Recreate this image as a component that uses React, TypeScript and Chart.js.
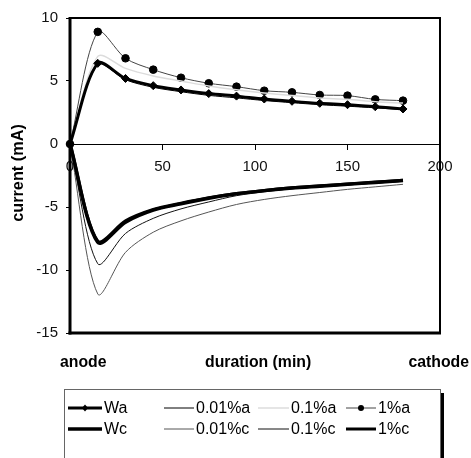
import React, { useEffect, useRef } from "react";
import { Chart, registerables } from "chart.js";

Chart.register(...registerables);

const durations = [0, 15, 30, 45, 60, 75, 90, 105, 120, 135, 150, 165, 180];
const Wa = [0, 6.4, 5.2, 4.63, 4.29, 4.0, 3.8, 3.57, 3.39, 3.23, 3.12, 2.96, 2.78];
const a001 = [0, 6.3, 5.1, 4.5, 4.15, 3.86, 3.66, 3.45, 3.28, 3.12, 3.0, 2.87, 2.72];
const a01 = [0, 6.95, 6.0, 5.4, 5.0, 4.6, 4.3, 4.05, 3.85, 3.65, 3.55, 3.35, 3.25];
const a1 = [0, 8.9, 6.8, 5.9, 5.26, 4.82, 4.55, 4.23, 4.1, 3.89, 3.84, 3.54, 3.44];
const Wc = [0, -7.8, -6.2, -5.25, -4.75, -4.3, -3.95, -3.7, -3.5, -3.35, -3.2, -3.05, -2.9];
const c001 = [0, -11.9, -8.6, -7.0, -6.1, -5.4, -4.8, -4.4, -4.1, -3.85, -3.6, -3.4, -3.2];
const c01 = [0, -9.5, -7.1, -5.9, -5.15, -4.6, -4.1, -3.8, -3.55, -3.4, -3.25, -3.1, -2.97];
const c1 = [0, -7.7, -6.1, -5.2, -4.7, -4.27, -3.93, -3.68, -3.48, -3.32, -3.17, -3.02, -2.88];

const xTicks = [0, 50, 100, 150, 200];
const yTicks = [-15, -10, -5, 0, 5, 10];

const FONT = "Liberation Sans, Arial, sans-serif";

const toXY = (vals: number[]) => vals.map((v, i) => ({ x: durations[i], y: v }));

export default function App() {
  const ref = useRef<HTMLCanvasElement | null>(null);

  useEffect(() => {
    if (!ref.current) return;
    const base = { tension: 0.3, clip: false as any };
    const datasets: any[] = [
      { label: "Wa", data: toXY(Wa), borderColor: "#000", backgroundColor: "#000", borderWidth: 3, pointStyle: "rectRot", pointRadius: 4, pointBorderWidth: 1, ...base },
      { label: "0.01%a", data: toXY(a001), borderColor: "#000", borderWidth: 1, pointRadius: 0, ...base },
      { label: "0.1%a", data: toXY(a01), borderColor: "#dcdcdc", borderWidth: 1.5, pointRadius: 0, ...base },
      { label: "1%a", data: toXY(a1), borderColor: "#444", backgroundColor: "#000", borderWidth: 1, pointStyle: "circle", pointRadius: 3.8, pointBorderColor: "#000", ...base },
      { label: "Wc", data: toXY(Wc), borderColor: "#000", borderWidth: 3.5, pointRadius: 0, ...base },
      { label: "0.01%c", data: toXY(c001), borderColor: "#555", borderWidth: 1, pointRadius: 0, ...base },
      { label: "0.1%c", data: toXY(c01), borderColor: "#111", borderWidth: 1, pointRadius: 0, ...base },
      { label: "1%c", data: toXY(c1), borderColor: "#000", borderWidth: 3, pointRadius: 0, ...base },
    ];

    const decor = {
      id: "decor",
      afterDraw(chart: any) {
        const { ctx, chartArea: ca } = chart;
        ctx.save();
        // frame
        ctx.fillStyle = "#000";
        ctx.fillRect(ca.left - 1.5, ca.top - 1, 3, ca.bottom - ca.top + 2.5);
        ctx.fillRect(ca.left - 1.5, ca.bottom - 1.5, ca.right - ca.left + 2.5, 3);
        ctx.fillRect(ca.left - 1, ca.top - 1, ca.right - ca.left + 2, 2);
        ctx.fillRect(ca.right - 1, ca.top - 1, 2, ca.bottom - ca.top + 2);

        // axis titles
        ctx.font = `bold 15.8px ${FONT}`;
        ctx.fillStyle = "#000";
        ctx.textBaseline = "middle";
        ctx.textAlign = "left";
        ctx.fillText("anode", 60, 363);
        ctx.fillText("duration (min)", 205, 363);
        ctx.textAlign = "right";
        ctx.fillText("cathode", 469, 363);
        ctx.save();
        ctx.translate(19, 173);
        ctx.rotate(-Math.PI / 2);
        ctx.textAlign = "center";
        ctx.font = `bold 16.3px ${FONT}`;
        ctx.fillText("current (mA)", 0, 0);
        ctx.restore();

        // legend box
        ctx.fillStyle = "#000";
        ctx.fillRect(441, 393, 3, 80);
        ctx.fillStyle = "#fff";
        ctx.fillRect(64, 389, 377, 80);
        ctx.strokeStyle = "#666";
        ctx.lineWidth = 1;
        ctx.strokeRect(64.5, 389.5, 376, 80);

        const cols = [68, 164, 258, 346];
        const lens = [34, 30, 31, 30];
        const rows = [408, 429];
        ctx.font = `16px ${FONT}`;
        ctx.textBaseline = "middle";
        ctx.textAlign = "left";
        datasets.forEach((ds: any, i: number) => {
          const r = i < 4 ? 0 : 1;
          const c = i % 4;
          const x0 = cols[c];
          const y = rows[r];
          const len = lens[c];
          ctx.strokeStyle = ds.borderColor;
          ctx.lineWidth = ds.borderWidth;
          ctx.beginPath();
          ctx.moveTo(x0, y);
          ctx.lineTo(x0 + len, y);
          ctx.stroke();
          if (ds.pointRadius > 0) {
            ctx.fillStyle = "#000";
            ctx.beginPath();
            const cx = x0 + len / 2;
            if (ds.pointStyle === "circle") {
              ctx.arc(cx, y, 3, 0, Math.PI * 2);
            } else {
              ctx.moveTo(cx, y - 3.5);
              ctx.lineTo(cx + 3, y);
              ctx.lineTo(cx, y + 3.5);
              ctx.lineTo(cx - 3, y);
              ctx.closePath();
            }
            ctx.fill();
          }
          ctx.fillStyle = "#000";
          ctx.fillText(ds.label, x0 + len + 2, y + 1);
        });
        ctx.restore();
      },
    };

    const chart = new Chart(ref.current, {
      type: "line",
      data: { datasets },
      options: {
        animation: false,
        responsive: false,
        maintainAspectRatio: false,
        layout: { padding: { left: 0, right: 31, top: 18, bottom: 125 } },
        plugins: { legend: { display: false }, tooltip: { enabled: false } },
        scales: {
          x: {
            type: "linear",
            position: { y: 0 } as any,
            min: 0,
            max: 200,
            afterBuildTicks: (s: any) => {
              s.ticks = xTicks.map((v) => ({ value: v }));
            },
            grid: { display: true, drawOnChartArea: false, drawTicks: true, tickLength: 5, color: "#000", lineWidth: 1 },
            border: { display: true, color: "#000", width: 1 },
            ticks: { color: "#111", font: { family: FONT, size: 15 }, padding: 9, maxRotation: 0, autoSkip: false },
          },
          y: {
            type: "linear",
            position: "left",
            min: -15,
            max: 10,
            afterBuildTicks: (s: any) => {
              s.ticks = yTicks.map((v) => ({ value: v }));
            },
            afterFit: (s: any) => {
              s.width = 70;
            },
            grid: { display: true, drawOnChartArea: false, drawTicks: true, tickLength: 4, color: "#000" },
            border: { display: false },
            ticks: { color: "#111", font: { family: FONT, size: 15 }, padding: 8 },
          },
        },
      },
      plugins: [decor],
    });
    return () => chart.destroy();
  }, []);

  return (
    <div style={{ position: "absolute", left: 0, top: 0, width: 471, height: 458, background: "#fff" }}>
      <canvas ref={ref} width={471} height={458} style={{ width: 471, height: 458, display: "block" }} />
    </div>
  );
}
